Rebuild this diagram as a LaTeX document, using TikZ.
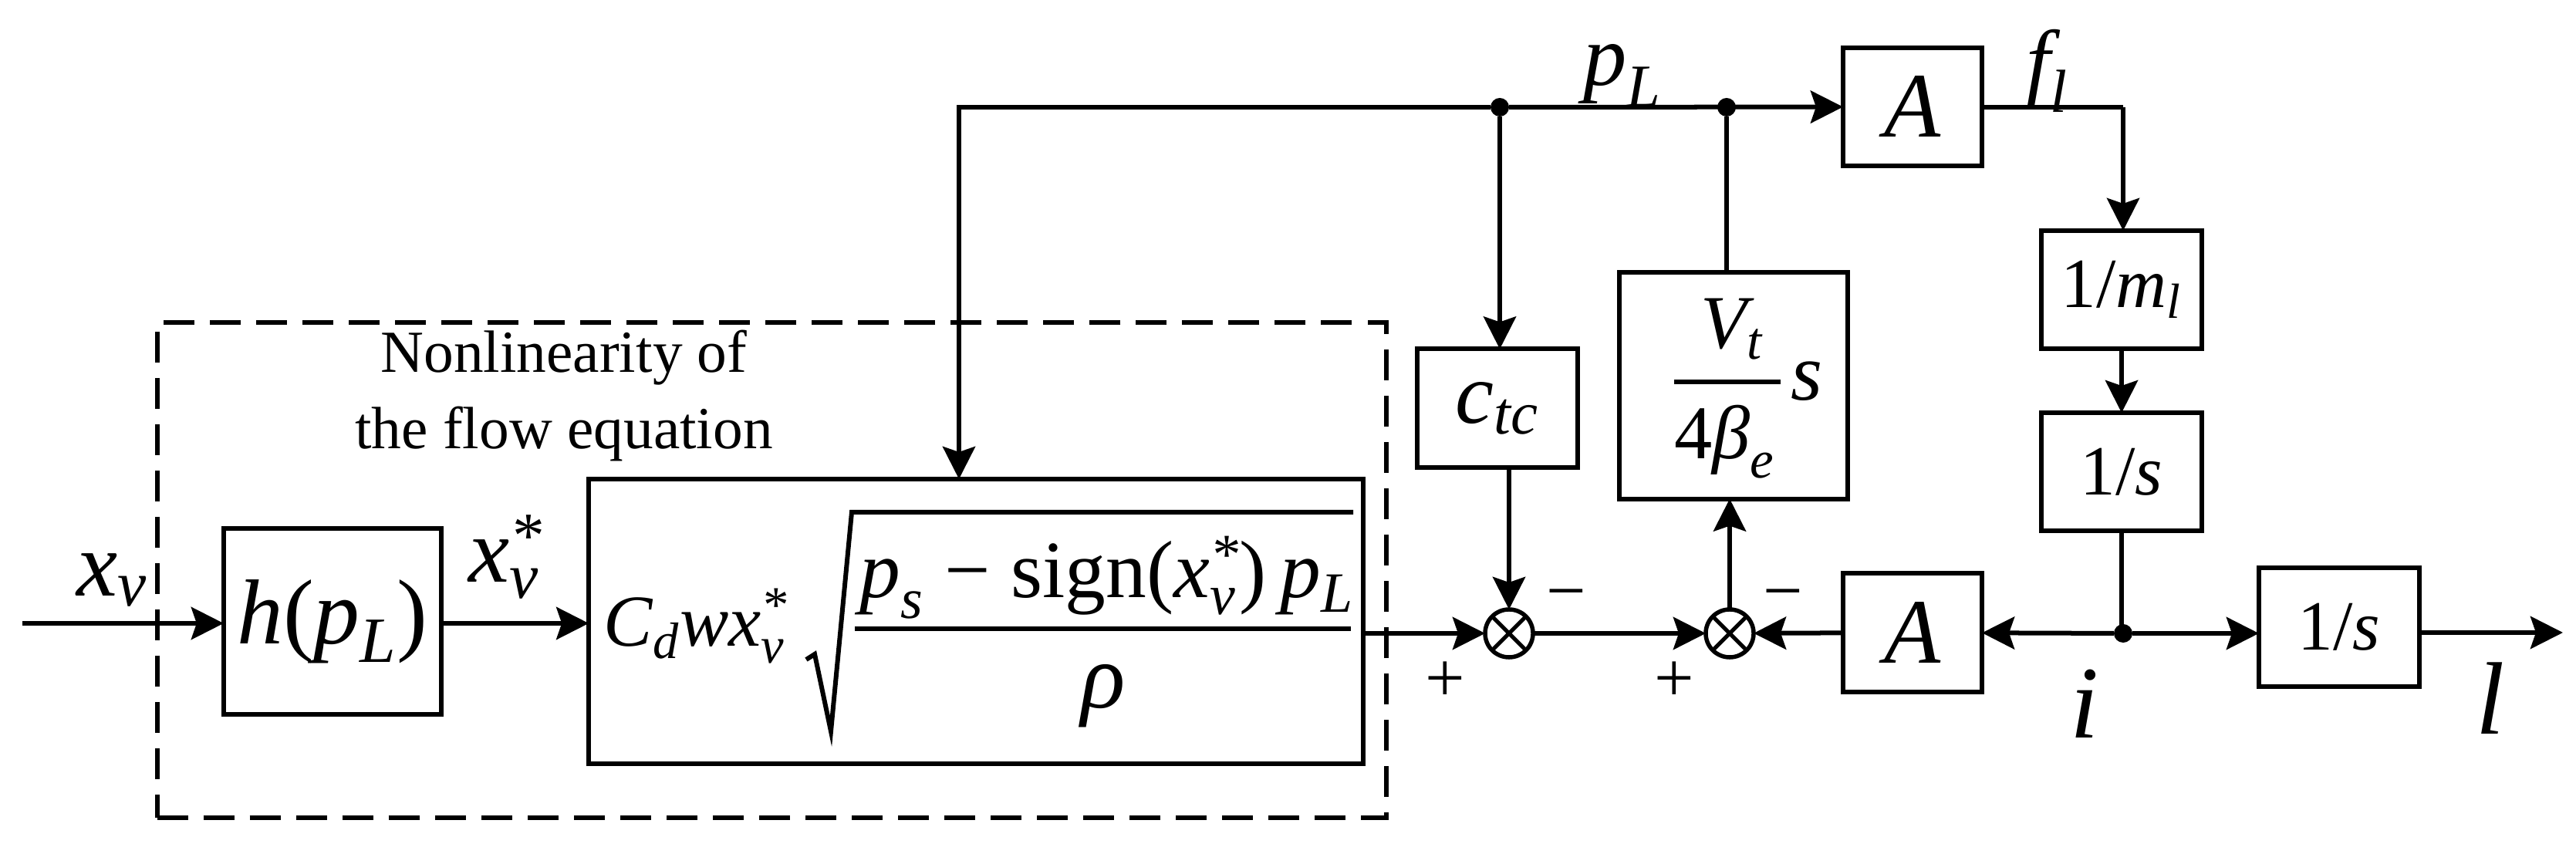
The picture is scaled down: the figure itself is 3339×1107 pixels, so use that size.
\documentclass[tikz,border=0pt]{standalone}
\usepackage{amsmath}
\usepackage{fontspec}
\setmainfont{Liberation Serif}
\usetikzlibrary{arrows.meta, positioning}
\newcommand{\iv}[1]{\textit{#1}}
\newcommand{\txtsize}[1]{\fontsize{#1}{#1}\selectfont}
\tikzset{
  block/.style = {
    rectangle,
    draw=black,
    fill=none,
    outer sep=0pt,
    inner sep=0pt,
    line width=0.06cm
  },
  block_A/.style = {
    block,
    minimum width=1.8cm,
    minimum height=1.53cm,
    font=\txtsize{34}\itshape
  },
  block_gain/.style = {
    block,
    minimum width=2.08cm,
    minimum height=1.53cm,
    font=\txtsize{26}
  },
  sumjoin/.style = {
    circle,
    draw=black,
    outer sep=0pt,
    inner sep=0pt,
    minimum size=0.62cm,
    line width=0.055cm,
    path picture={
      \draw [line width=0.05cm] (path picture bounding box.north west) -- (path picture bounding box.south east);
      \draw [line width=0.05cm] (path picture bounding box.north east) -- (path picture bounding box.south west);
    }
  },
  dot/.style = {
    circle,
    fill=black,
    inner sep=0pt,
    outer sep=0pt,
    minimum size=0.24cm
  },
  wire/.style = {
    line width=0.06cm,
    draw=black
  },
  arrow/.style = {
    wire,
    -{Stealth[length=0.42cm,width=0.42cm,inset=0.07cm]}
  },
  signlabel/.style = {
    font=\txtsize{26},
    inner sep=0pt
  },
  varlabel/.style = {
    font=\txtsize{34},
    inner sep=0pt
  }
}

\begin{document}
\begin{tikzpicture}[x=0.01cm, y=-0.01cm]
\useasboundingbox (0,0) rectangle (3339,1107);

% ===== Dashed frame =====
\node (nonlin) [block, dashed, dash pattern=on 0.4cm off 0.2cm, minimum width=15.93cm, minimum height=6.42cm] at (1000.5,739) {};
\node (nonlintext) [font=\txtsize{22}, align=center, inner sep=0pt] at (731,513) {Nonlinearity of\\[6pt]the flow equation};

% ===== Lower row (left -> right) =====
\node (hbox) [block, minimum width=2.82cm, minimum height=2.41cm, font=\txtsize{34}] at (431,805.5) {\iv{h}(\iv{p}$_{\iv{L}}$)};
\node (bigbox) [block, right=1.91cm of hbox, minimum width=10.03cm, minimum height=3.69cm] {};
\node (sum1) [sumjoin] at (1956,821) {};
\node (sum2) [sumjoin] at (2242,821) {};
\node (botA) [block_A] at (2479,820) {A};
\node (junci) [dot] at (2752,821) {};
\node (intl) [block_gain] at (3032,813) {1/\iv{s}};

% ===== Upper row and right column =====
\node (junc1) [dot] at (1944,139) {};
\node (junc2) [dot] at (2238,139) {};
\node (topA) [block_A] at (2479,138.5) {A};
\node (ctc) [block_gain, font=\txtsize{32}] at (1941,529) {$\iv{c}_{\iv{tc}}$};
\node (vtbox) [block, minimum width=2.95cm, minimum height=2.93cm] at (2247,500) {};
\node (invm) [block_gain] at (2750,375.5) {1/$\iv{m}_{\iv{l}}$};
\node (ints) [block_gain, below=0.83cm of invm] {1/\iv{s}};

% ===== Free ends =====
\coordinate (xin) at (29,808);
\coordinate (lout) at (3322,820);
\coordinate (bigin) at (1243,621);
\coordinate (fcorner) at (2752,139);

% ===== Formula inside the big block =====
\node (formC) [anchor=base west, font=\txtsize{27}, inner sep=0pt] at (782,838) {$\iv{C}_{\iv{d}}\iv{w}\iv{x}_{\iv{v}}^{\textit{*}}$};
\node (formnum) [anchor=base, font=\txtsize{30}, inner sep=0pt] at (1435,775) {$\iv{p}_{\iv{s}}$ − sign(\iv{x}$_{\iv{v}}^{\textit{*}}$)\,\iv{p}$_{\iv{L}}$};
\node (formden) [anchor=base, font=\txtsize{34}\itshape, inner sep=0pt] at (1430,918) {ρ};
\draw [wire, line join=miter] (1045,855) -- (1056,848) -- (1077,948) -- (1104,664) -- (1754,664);
\draw [wire] (1108,815) -- (1751,815);

% ===== Fraction inside the volume block =====
\node (vtnum) [anchor=base, font=\txtsize{28}, inner sep=0pt] at (2245,452) {$\iv{V}_{\iv{t}}$};
\draw [wire] (2170,495) -- (2308,495);
\node (vtden) [anchor=base, font=\txtsize{28}, inner sep=0pt] at (2236,595) {4$\iv{β}_{\iv{e}}$};
\node (vts) [font=\txtsize{30}\itshape, inner sep=0pt] at (2342,494) {s};

% ===== Signal labels =====
\node (xvlab) [varlabel] at (145,752) {$\iv{x}_{\iv{v}}$};
\node (xslab) [varlabel] at (656,722) {$\iv{x}_{\iv{v}}^{\textit{*}}$};
\node (pllab) [anchor=base, font=\txtsize{32}, inner sep=0pt] at (2103,111) {$\iv{p}_{\iv{L}}$};
\node (fllab) [anchor=base, font=\txtsize{32}, inner sep=0pt] at (2654,118) {$\iv{f}_{\iv{l}}$};
\node (ilab) [varlabel, font=\txtsize{38}\itshape] at (2702,912) {i};
\node (llab) [varlabel, font=\txtsize{38}\itshape] at (3228,905) {l};
\node (plus1) [signlabel] at (1873,884) {+};
\node (minus1) [signlabel] at (2030,780) {−};
\node (plus2) [signlabel] at (2170,884) {+};
\node (minus2) [signlabel] at (2311,780) {−};

% ===== Connectors =====
\draw [arrow] (xin) -- (hbox.west |- xin);
\draw [arrow] (hbox.east |- xin) -- (bigbox.west |- xin);
\draw [arrow] (bigbox.east |- sum1) -- (sum1);
\draw [arrow] (sum1) -- (sum2);
\draw [arrow] (botA) -- (sum2);
\draw [arrow] (sum2) -- (sum2 |- vtbox.south);
\draw [wire] (junc2) -- (junc2 |- vtbox.north);
\draw [arrow] (junc1) -- (topA);
\draw [arrow] (junc1) -| (bigin);
\draw [arrow] (junc1) -- (junc1 |- ctc.north);
\draw [arrow] (sum1 |- ctc.south) -- (sum1);
\draw [wire] (topA.east |- fcorner) -- (fcorner);
\draw [arrow] (fcorner) -- (invm.north -| fcorner);
\draw [arrow] (invm) -- (ints);
\draw [wire] (ints) -- (ints |- junci);
\draw [arrow] (junci) -- (botA);
\draw [arrow] (junci) -- (intl.west |- junci);
\draw [arrow] (intl.east |- lout) -- (lout);

\end{tikzpicture}
\end{document}
